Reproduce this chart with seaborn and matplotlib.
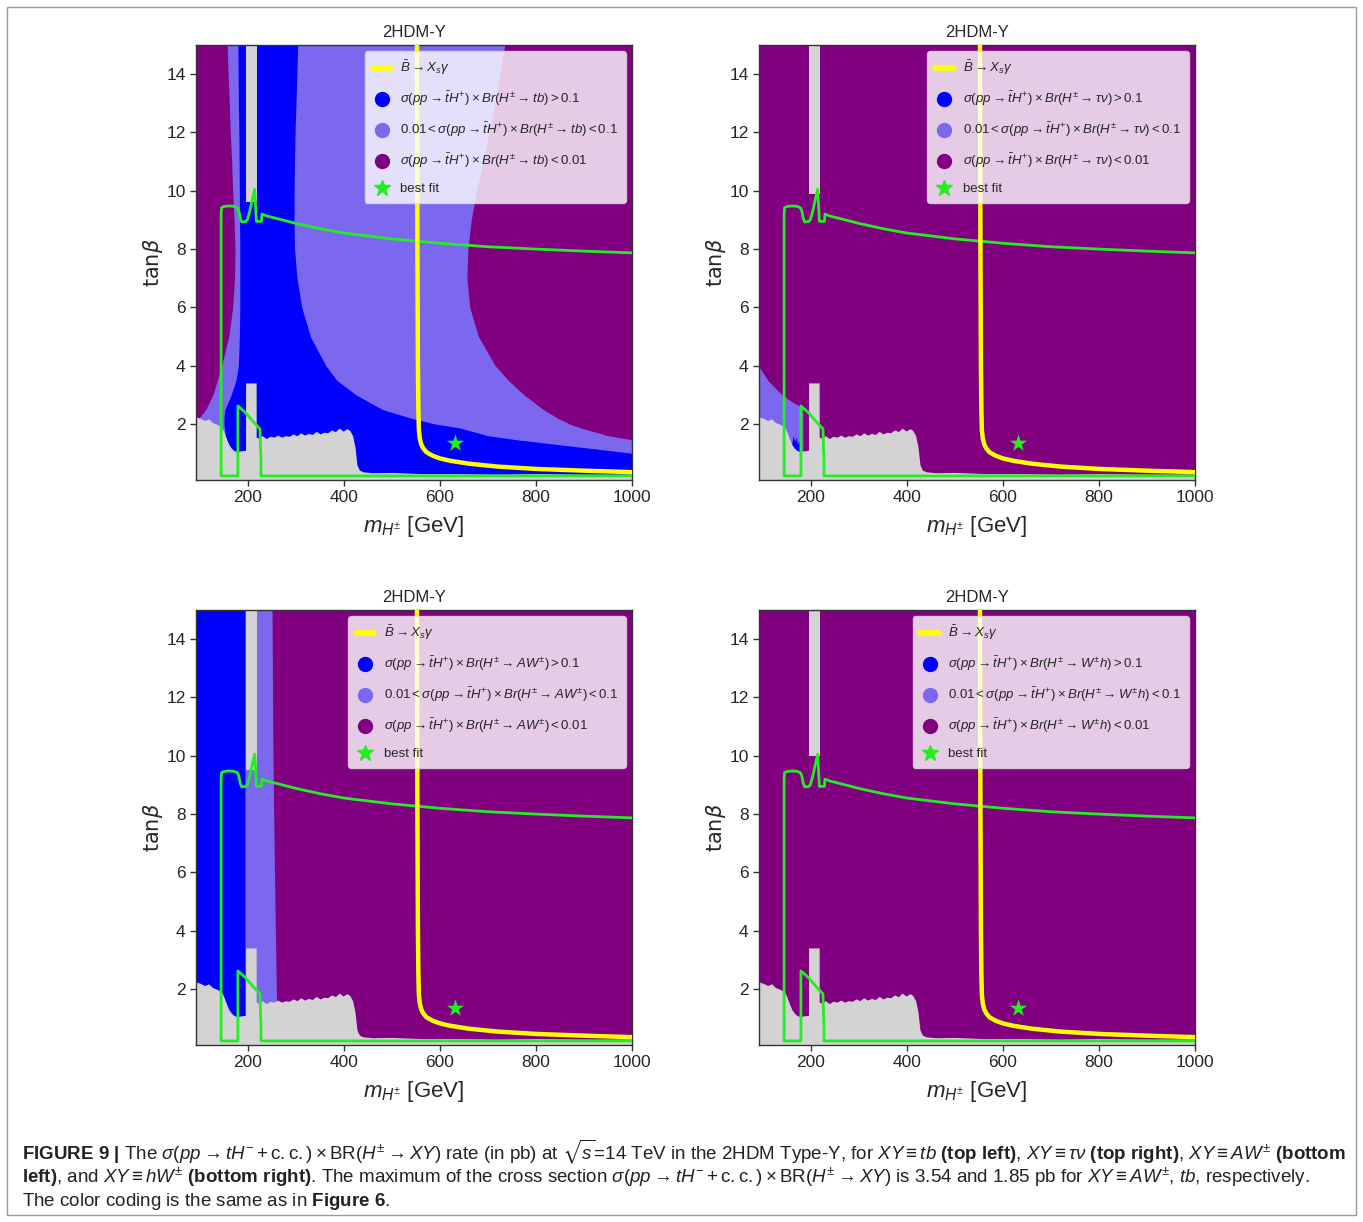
import matplotlib
matplotlib.use("Agg")
import matplotlib.pyplot as plt
from matplotlib import font_manager
from matplotlib.lines import Line2D
from matplotlib.patches import Rectangle
import pandas as pd
import seaborn as sns

# ---------------- scan data (m_H± in GeV, tanβ) ----------------
# upper edge of the grey (no-rate) points along the bottom of each panel
floor_mh = [90, 100, 110, 118, 126, 134, 140, 146, 150, 155, 160, 165, 170, 177, 185, 194.9,
            195, 217,
            217.1, 222, 230, 238, 246, 254, 262, 270, 278, 286, 294, 302, 310, 318, 326, 334,
            342, 350, 358, 366, 374, 382, 390, 398, 406, 412, 418, 423, 427, 432, 440, 460,
            500, 560, 640, 720, 800, 900, 1000]
floor_tb = [2.25, 2.2, 2.12, 2.18, 2.05, 2.0, 1.95, 1.87, 1.72, 1.5, 1.3, 1.18, 1.1, 1.05, 1.08, 1.1,
            3.41, 3.41,
            1.55, 1.52, 1.6, 1.5, 1.58, 1.55, 1.62, 1.55, 1.6, 1.58, 1.66, 1.6, 1.7, 1.62, 1.68, 1.64,
            1.75, 1.66, 1.72, 1.7, 1.8, 1.74, 1.86, 1.76, 1.84, 1.78, 1.6, 1.2, 0.6, 0.42, 0.36, 0.33,
            0.34, 0.3, 0.3, 0.28, 0.3, 0.28, 0.28]

# unscanned strip in m_H± (grey from its lower edge up to the top)
gap_mh = [195, 218]

# allowed-region contour (green)
green_mh = [1000, 900, 800, 700, 600, 500, 450, 400, 350, 300,
            260, 240, 229, 228, 219, 217.5, 214, 211, 207, 203,
            199, 196, 187, 184, 181, 178, 170, 160, 150, 145,
            144, 144, 179, 179, 194, 210, 225, 226, 227, 227,
            1000]
green_tb = [7.87, 7.93, 8.0, 8.08, 8.2, 8.35, 8.45, 8.55, 8.7, 8.88,
            9.05, 9.13, 9.2, 8.95, 8.95, 8.95, 10.05, 9.85, 9.55, 9.25,
            9.02, 8.95, 8.93, 9.05, 9.3, 9.42, 9.47, 9.48, 9.46, 9.42,
            9.2, 0.22, 0.22, 2.62, 2.4, 2.1, 1.83, 1.2, 0.9, 0.22,
            0.22]

# B -> X_s gamma bound (yellow)
bsg_mh = [552, 553, 554, 555, 556, 558, 561, 565, 572, 585, 600, 621, 660, 720, 800, 900, 1000]
bsg_tb = [15.2, 8.0, 4.0, 2.5, 1.8, 1.5, 1.3, 1.17, 1.03, 0.91, 0.82, 0.74, 0.64, 0.54, 0.46, 0.4, 0.35]

# best-fit point
best_mh = [631]
best_tb = [1.35]

# XY = tb : region edges in m_H± at given tanβ
tb_grid     = [0.0, 1.0, 1.46, 1.6, 1.87, 2.0, 2.2, 2.5, 3.0, 3.5, 4.0, 5.0, 6.0, 7.0, 8.0, 9.0, 10.0, 11.0, 12.0, 13.0, 15.2]
tb_light_lo = [80, 80, 80, 80, 80, 80, 98, 112, 127, 136, 145, 160, 168, 172, 173, 171, 168, 166, 163, 161, 156]
tb_blue_lo  = [155, 155, 155, 153, 151, 150, 150, 152, 165, 175, 180, 182, 183, 183, 183, 182.5, 182, 181.5, 181, 180, 179]
tb_blue_hi  = [1010, 1000, 760, 700, 640, 590, 540, 480, 425, 385, 362, 330, 312, 302, 297, 296, 296, 297, 298, 300, 304]
tb_light_hi = [1010, 1010, 1000, 950, 892, 870, 845, 815, 775, 742, 715, 680, 662, 656, 658, 665, 676, 690, 702, 715, 737]

# XY = tau nu : light-blue corner and a small blue patch at low mass
taunu_light_mh = [80, 92, 100, 110, 120, 130, 140, 150, 160, 170, 178, 183, 183.1]
taunu_light_tb = [4.1, 3.96, 3.75, 3.5, 3.33, 3.16, 3.0, 2.88, 2.77, 2.67, 2.6, 2.52, 0.0]
taunu_blue_mh = [160, 163, 166, 169, 172, 175, 178]
taunu_blue_tb = [1.35, 1.6, 1.4, 1.55, 1.3, 1.45, 1.1]

# XY = AW : vertical bands
aw_grid     = [0.0, 5.0, 10.0, 15.2]
aw_blue_hi  = [194, 194, 194, 194]
aw_light_hi = [261, 256, 252, 250]

# lower edge of the grey strip top part, per channel
gap_bottom = {"tb": 9.6, "taunu": 9.9, "AW": 9.5, "Wh": 10.0}

# ---------------- style ----------------
sns.set_style("ticks")
names = {f.name for f in font_manager.fontManager.ttflist}
NARROW = "Liberation Sans Narrow" if "Liberation Sans Narrow" in names else "Liberation Sans"
plt.rcParams["font.family"] = [NARROW, "DejaVu Sans"]
plt.rcParams["mathtext.fontset"] = "custom"
plt.rcParams["mathtext.rm"] = NARROW
plt.rcParams["mathtext.it"] = NARROW + ":italic"
plt.rcParams["mathtext.bf"] = NARROW + ":bold"
plt.rcParams["mathtext.fallback"] = "stixsans"

PURPLE = "#800080"
BLUE = "#0000ff"
LIGHT = "#7b68ee"
GREY = "#d3d3d3"
GREEN = "#22ee22"
YELLOW = "#ffff00"

W, H = 1363, 1222
fig = plt.figure(figsize=(W / 100, H / 100), dpi=100)


def rect(x0, y0, x1, y1):
    return [x0 / W, 1 - y1 / H, (x1 - x0) / W, (y1 - y0) / H]


def legend_labels(ch):
    core = r"\sigma(pp\to\bar{t}H^{+})\times Br(H^{\pm}\to " + ch + ")"
    return [r"$" + core + r">0.1$", r"$0.01<" + core + r"<0.1$", r"$" + core + r"<0.01$"]


def draw_regions(ax, key):
    if key == "tb":
        ax.fill_betweenx(tb_grid, tb_light_lo, tb_light_hi, color=LIGHT, lw=0)
        ax.fill_betweenx(tb_grid, tb_blue_lo, tb_blue_hi, color=BLUE, lw=0)
    elif key == "taunu":
        ax.fill_between(taunu_light_mh, 0, taunu_light_tb, color=LIGHT, lw=0)
        ax.fill_between(taunu_blue_mh, 0.9, taunu_blue_tb, color=BLUE, lw=0)
    elif key == "AW":
        ax.fill_betweenx(aw_grid, 80, aw_blue_hi, color=BLUE, lw=0)
        ax.fill_betweenx(aw_grid, aw_blue_hi, aw_light_hi, color=LIGHT, lw=0)


panels = [
    ("tb", "tb", (196, 45, 632, 480)),
    ("taunu", r"\tau\nu", (759, 45, 1195, 480)),
    ("AW", r"AW^{\pm}", (196, 610, 632, 1045)),
    ("Wh", r"W^{\pm}h", (759, 610, 1195, 1045)),
]

green_df = pd.DataFrame({"mH": green_mh, "tanb": green_tb})
bsg_df = pd.DataFrame({"mH": bsg_mh, "tanb": bsg_tb})
best_df = pd.DataFrame({"mH": best_mh, "tanb": best_tb})

for key, ch, box in panels:
    ax = fig.add_axes(rect(*box))
    ax.set_facecolor(PURPLE)
    draw_regions(ax, key)
    ax.fill_between(floor_mh, -1, floor_tb, color=GREY, lw=0)
    ax.fill_between(gap_mh, gap_bottom[key], 16, color=GREY, lw=0)

    sns.lineplot(data=green_df, x="mH", y="tanb", sort=False, estimator=None,
                 color=GREEN, lw=2, ax=ax, zorder=4)
    sns.lineplot(data=bsg_df, x="mH", y="tanb", sort=False, estimator=None,
                 color=YELLOW, lw=3.2, ax=ax, zorder=5)
    sns.scatterplot(data=best_df, x="mH", y="tanb", marker="*", s=170,
                    color=GREEN, edgecolor=GREEN, linewidth=0, ax=ax, zorder=6)

    ax.set_xlim(91.7, 1000)
    ax.set_ylim(0.08, 15.0)
    ax.set_xticks([200, 400, 600, 800, 1000])
    ax.set_yticks([2, 4, 6, 8, 10, 12, 14])
    ax.tick_params(labelsize=12.5, length=4, width=1, direction="out", color="#333333")
    for sp in ax.spines.values():
        sp.set_color("#333333")
        sp.set_linewidth(1)
    ax.set_title("2HDM-Y", fontsize=12, pad=6)
    ax.set_xlabel(r"$m_{H^{\pm}}$ [GeV]", fontsize=16, labelpad=6)
    ax.set_ylabel(r"$\mathrm{tan}\beta$", fontsize=15, labelpad=1, math_fontfamily="dejavusans")

    labs = legend_labels(ch)
    handles = [
        Line2D([], [], color=YELLOW, lw=4),
        Line2D([], [], ls="none", marker="o", ms=10, mfc=BLUE, mec=BLUE),
        Line2D([], [], ls="none", marker="o", ms=10, mfc=LIGHT, mec=LIGHT),
        Line2D([], [], ls="none", marker="o", ms=10, mfc=PURPLE, mec=PURPLE),
        Line2D([], [], ls="none", marker="*", ms=12, mfc=GREEN, mec=GREEN),
    ]
    texts = [r"$\bar{B}\to X_s\gamma$"] + labs + ["best fit"]
    leg = ax.legend(handles, texts, loc="upper right", fontsize=9.5, framealpha=0.8,
                    facecolor="white", edgecolor="#dddddd", labelspacing=0.95,
                    handlelength=1.4, handletextpad=0.7, borderaxespad=0.45,
                    borderpad=0.6)
    leg.set_zorder(10)

# ---------------- caption ----------------
cap1 = (r"$\mathbf{FIGURE\ 9\ |}$ The $\sigma(pp\rightarrow tH^{-}+\mathrm{c.c.})\times\mathrm{BR}(H^{\pm}\rightarrow XY)$"
        r" rate (in pb) at $\sqrt{s}$=14 TeV in the 2HDM Type-Y, for $XY\equiv tb$ $\mathbf{(top\ left)}$,"
        r" $XY\equiv\tau\nu$ $\mathbf{(top\ right)}$, $XY\equiv AW^{\pm}$ $\mathbf{(bottom}$")
cap2 = (r"$\mathbf{left)}$, and $XY\equiv hW^{\pm}$ $\mathbf{(bottom\ right)}$. The maximum of the cross section"
        r" $\sigma(pp\rightarrow tH^{-}+\mathrm{c.c.})\times\mathrm{BR}(H^{\pm}\rightarrow XY)$ is 3.54 and 1.85 pb"
        r" for $XY\equiv AW^{\pm}$, $tb$, respectively.")
cap3 = r"The color coding is the same as in $\mathbf{Figure\ 6}$."

x0 = 22 / W
t1 = fig.text(x0, 1 - 1152 / H, cap1, fontsize=12, va="center", ha="left", color="#222222")
t2 = fig.text(x0, 1 - 1177 / H, cap2, fontsize=12, va="center", ha="left", color="#222222")
t3 = fig.text(x0, 1 - 1201 / H, cap3, fontsize=12, va="center", ha="left", color="#222222")
renderer = fig.canvas.get_renderer()
w1 = t1.get_window_extent(renderer).width
fs = 12 * (1341 - 22) / w1
for t in (t1, t2, t3):
    t.set_fontsize(fs)

fig.add_artist(Rectangle((7 / W, 7 / H), (1356 - 7) / W, (1215 - 7) / H,
                         transform=fig.transFigure, fill=False, ec="#9a9a9a", lw=1))

fig.savefig("out.png", dpi=100)
